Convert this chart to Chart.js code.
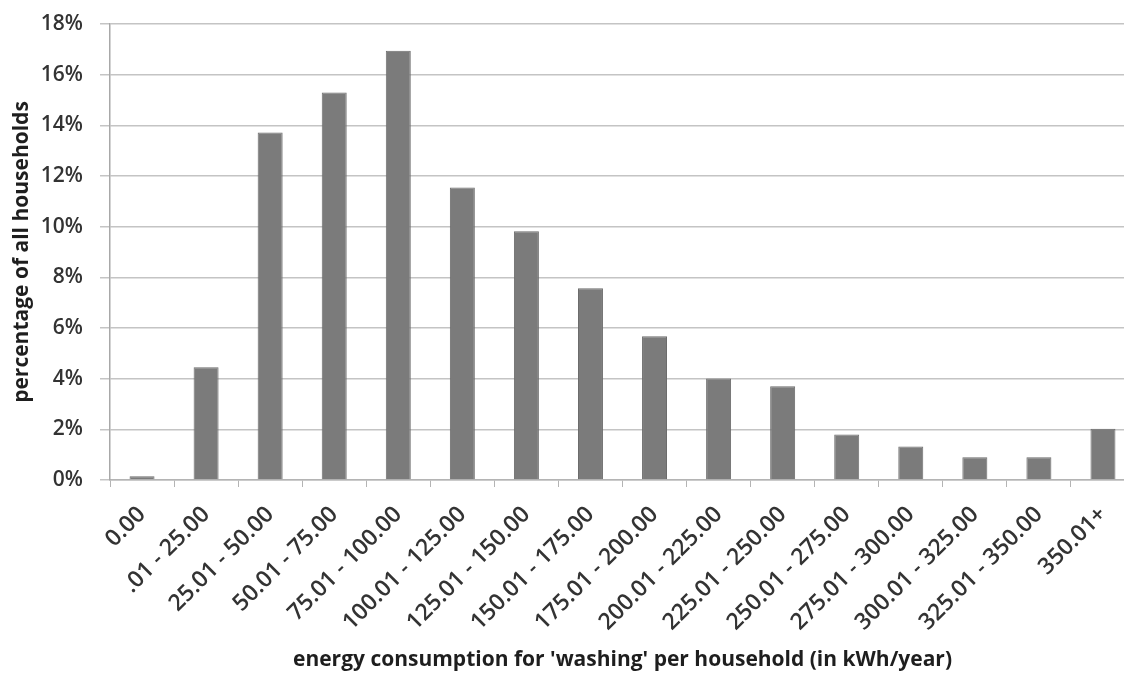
<!DOCTYPE html>
<html>
<head>
<meta charset="utf-8">
<script src="https://cdn.jsdelivr.net/npm/chart.js@4/dist/chart.umd.min.js"></script>
<style>
  html, body { margin: 0; padding: 0; background: #fff; overflow: hidden; }
  #wrap { width: 1124px; height: 673px; overflow: hidden; }
  canvas { display: block; }
</style>
</head>
<body>
<div id="wrap"><canvas id="chart" width="1140" height="673"></canvas></div>
<script>
// categories (kWh/year bands) and share of households in each band, in %
const bands = ['0.00', '.01 - 25.00', '25.01 - 50.00', '50.01 - 75.00', '75.01 - 100.00',
  '100.01 - 125.00', '125.01 - 150.00', '150.01 - 175.00', '175.01 - 200.00',
  '200.01 - 225.00', '225.01 - 250.00', '250.01 - 275.00', '275.01 - 300.00',
  '300.01 - 325.00', '325.01 - 350.00', '350.01+'];
const shares = [0.15, 4.45, 13.72, 15.3, 16.94, 11.55, 9.82, 7.57, 5.67, 4.01, 3.7, 1.8, 1.32, 0.9, 0.9, 2.02];
const yMax = 18;
const yStep = 2;

const fontFamily = '"Open Sans", "DejaVu Sans", sans-serif';

const ctx = document.getElementById('chart').getContext('2d');
new Chart(ctx, {
  type: 'bar',
  data: {
    labels: bands,
    datasets: [{
      data: shares,
      backgroundColor: '#7b7b7b',
      borderColor: '#6c6c6c',
      borderWidth: 1,
      categoryPercentage: 1,
      barPercentage: 0.39
    }]
  },
  options: {
    responsive: false,
    animation: false,
    layout: { padding: { top: 0, right: 5, left: 0, bottom: 0 } },
    plugins: {
      legend: { display: false },
      tooltip: { enabled: false }
    },
    scales: {
      x: {
        afterFit: (scale) => { scale.height = 193; },
        grid: {
          display: true,
          drawOnChartArea: false,
          drawTicks: true,
          tickLength: 7,
          color: '#b4b4b4',
          lineWidth: 1
        },
        border: { display: true, color: '#b4b4b4', width: 1.5 },
        ticks: {
          autoSkip: false,
          maxRotation: 45,
          minRotation: 45,
          padding: 14,
          color: '#333',
          font: { family: fontFamily, size: 23, weight: '600' }
        },
        title: {
          display: true,
          text: "energy consumption for 'washing' per household (in kWh/year)",
          color: '#1e1e1e',
          font: { family: fontFamily, size: 21, weight: 'bold' },
          padding: { top: 0, bottom: 0 }
        }
      },
      y: {
        min: 0,
        max: yMax,
        afterFit: (scale) => {
          scale.width = 110;
          scale.paddingTop = 24;
          scale.paddingBottom = 0;
        },
        grid: {
          color: '#c4c4c4',
          lineWidth: 1.5,
          drawTicks: true,
          tickLength: 10
        },
        border: { display: true, color: '#a8a8a8', width: 1.5 },
        ticks: {
          stepSize: yStep,
          padding: 17,
          color: '#333',
          font: { family: fontFamily, size: 21, weight: '600' },
          callback: (v) => v + '%'
        },
        title: {
          display: true,
          text: 'percentage of all households',
          color: '#1e1e1e',
          font: { family: fontFamily, size: 21, weight: 'bold' },
          padding: { top: 9, bottom: 0 }
        }
      }
    }
  }
});
</script>
</body>
</html>
